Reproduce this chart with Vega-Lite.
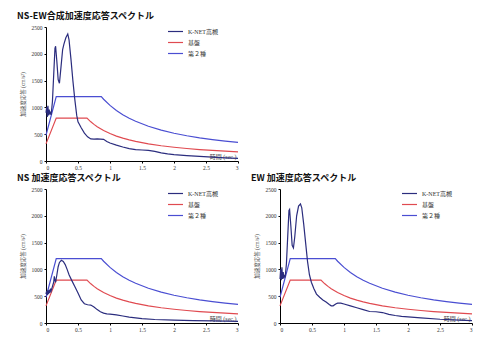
{
  "$schema": "https://vega.github.io/schema/vega-lite/v6.json",
  "padding": {"left": 17, "top": 12, "right": 5, "bottom": 5},
  "background": "white",
  "config": {
    "view": {"stroke": null},
    "font": "Liberation Serif, Noto Sans CJK JP",
    "axis": {"grid": false, "domainColor": "#000", "tickColor": "#000", "labelFont": "Liberation Serif", "labelFontSize": 5.5, "labelColor": "#333", "tickSize": 2, "labelPadding": 2, "domainWidth": 1, "titleFont": "Liberation Serif, Noto Sans CJK JP", "titleFontWeight": "normal", "titleFontSize": 5.5, "titleColor": "#444"},
    "title": {"font": "Noto Sans CJK JP", "fontSize": 9, "fontWeight": "bold", "anchor": "start", "frame": "bounds", "color": "#111", "offset": 4, "dx": -3},
    "legend": {"orient": "none", "legendX": 121, "legendY": 1, "labelFont": "Liberation Serif, Noto Sans CJK JP", "labelFontSize": 6, "labelColor": "#333", "symbolType": "stroke", "symbolSize": 225, "symbolStrokeWidth": 1.2, "clipHeight": 7, "rowPadding": 4, "title": null}
  },
  "datasets": {
    "code": [
      {"s": "基盤", "T": 0, "v": 320}, {"s": "基盤", "T": 0.16, "v": 800}, {"s": "基盤", "T": 0.64, "v": 800},
      {"s": "基盤", "T": 0.7, "v": 731}, {"s": "基盤", "T": 0.75, "v": 683}, {"s": "基盤", "T": 0.8, "v": 640},
      {"s": "基盤", "T": 0.9, "v": 569}, {"s": "基盤", "T": 1.0, "v": 512}, {"s": "基盤", "T": 1.1, "v": 465},
      {"s": "基盤", "T": 1.2, "v": 427}, {"s": "基盤", "T": 1.3, "v": 394}, {"s": "基盤", "T": 1.4, "v": 366},
      {"s": "基盤", "T": 1.6, "v": 320}, {"s": "基盤", "T": 1.8, "v": 284}, {"s": "基盤", "T": 2.0, "v": 256},
      {"s": "基盤", "T": 2.2, "v": 233}, {"s": "基盤", "T": 2.4, "v": 213}, {"s": "基盤", "T": 2.6, "v": 197},
      {"s": "基盤", "T": 2.8, "v": 183}, {"s": "基盤", "T": 3.0, "v": 171},
      {"s": "第２種", "T": 0, "v": 480}, {"s": "第２種", "T": 0.16, "v": 1200}, {"s": "第２種", "T": 0.864, "v": 1200},
      {"s": "第２種", "T": 0.9, "v": 1152}, {"s": "第２種", "T": 1.0, "v": 1037}, {"s": "第２種", "T": 1.1, "v": 943},
      {"s": "第２種", "T": 1.2, "v": 864}, {"s": "第２種", "T": 1.3, "v": 798}, {"s": "第２種", "T": 1.4, "v": 741},
      {"s": "第２種", "T": 1.6, "v": 648}, {"s": "第２種", "T": 1.8, "v": 576}, {"s": "第２種", "T": 2.0, "v": 518},
      {"s": "第２種", "T": 2.2, "v": 471}, {"s": "第２種", "T": 2.4, "v": 432}, {"s": "第２種", "T": 2.6, "v": 399},
      {"s": "第２種", "T": 2.8, "v": 370}, {"s": "第２種", "T": 3.0, "v": 346}
    ],
    "nsew": [
      {"s": "K-NET高槻", "T": 0, "v": 900}, {"s": "K-NET高槻", "T": 0.01, "v": 1000}, {"s": "K-NET高槻", "T": 0.02, "v": 820}, {"s": "K-NET高槻", "T": 0.03, "v": 1030}, {"s": "K-NET高槻", "T": 0.04, "v": 850},
      {"s": "K-NET高槻", "T": 0.05, "v": 960}, {"s": "K-NET高槻", "T": 0.06, "v": 870}, {"s": "K-NET高槻", "T": 0.07, "v": 920}, {"s": "K-NET高槻", "T": 0.08, "v": 860}, {"s": "K-NET高槻", "T": 0.1, "v": 1100},
      {"s": "K-NET高槻", "T": 0.12, "v": 1600}, {"s": "K-NET高槻", "T": 0.14, "v": 2100}, {"s": "K-NET高槻", "T": 0.15, "v": 2140}, {"s": "K-NET高槻", "T": 0.17, "v": 1850}, {"s": "K-NET高槻", "T": 0.19, "v": 1520},
      {"s": "K-NET高槻", "T": 0.21, "v": 1450}, {"s": "K-NET高槻", "T": 0.23, "v": 1700}, {"s": "K-NET高槻", "T": 0.26, "v": 2080}, {"s": "K-NET高槻", "T": 0.28, "v": 2180}, {"s": "K-NET高槻", "T": 0.31, "v": 2300},
      {"s": "K-NET高槻", "T": 0.34, "v": 2370}, {"s": "K-NET高槻", "T": 0.36, "v": 2260}, {"s": "K-NET高槻", "T": 0.39, "v": 1900}, {"s": "K-NET高槻", "T": 0.42, "v": 1500}, {"s": "K-NET高槻", "T": 0.45, "v": 1150},
      {"s": "K-NET高槻", "T": 0.48, "v": 850}, {"s": "K-NET高槻", "T": 0.5, "v": 730}, {"s": "K-NET高槻", "T": 0.55, "v": 620}, {"s": "K-NET高槻", "T": 0.6, "v": 520}, {"s": "K-NET高槻", "T": 0.65, "v": 450},
      {"s": "K-NET高槻", "T": 0.7, "v": 412}, {"s": "K-NET高槻", "T": 0.75, "v": 408}, {"s": "K-NET高槻", "T": 0.8, "v": 412}, {"s": "K-NET高槻", "T": 0.85, "v": 408}, {"s": "K-NET高槻", "T": 0.9, "v": 405},
      {"s": "K-NET高槻", "T": 0.95, "v": 365}, {"s": "K-NET高槻", "T": 1.0, "v": 335}, {"s": "K-NET高槻", "T": 1.1, "v": 295}, {"s": "K-NET高槻", "T": 1.2, "v": 262}, {"s": "K-NET高槻", "T": 1.3, "v": 232},
      {"s": "K-NET高槻", "T": 1.4, "v": 212}, {"s": "K-NET高槻", "T": 1.5, "v": 205}, {"s": "K-NET高槻", "T": 1.6, "v": 198}, {"s": "K-NET高槻", "T": 1.7, "v": 178}, {"s": "K-NET高槻", "T": 1.8, "v": 152},
      {"s": "K-NET高槻", "T": 1.9, "v": 132}, {"s": "K-NET高槻", "T": 2.0, "v": 118}, {"s": "K-NET高槻", "T": 2.2, "v": 102}, {"s": "K-NET高槻", "T": 2.4, "v": 86}, {"s": "K-NET高槻", "T": 2.6, "v": 74},
      {"s": "K-NET高槻", "T": 2.8, "v": 60}, {"s": "K-NET高槻", "T": 3.0, "v": 50}
    ],
    "ns": [
      {"s": "K-NET高槻", "T": 0, "v": 540}, {"s": "K-NET高槻", "T": 0.01, "v": 600}, {"s": "K-NET高槻", "T": 0.02, "v": 520}, {"s": "K-NET高槻", "T": 0.03, "v": 610}, {"s": "K-NET高槻", "T": 0.04, "v": 540},
      {"s": "K-NET高槻", "T": 0.05, "v": 620}, {"s": "K-NET高槻", "T": 0.06, "v": 560}, {"s": "K-NET高槻", "T": 0.07, "v": 640}, {"s": "K-NET高槻", "T": 0.08, "v": 600}, {"s": "K-NET高槻", "T": 0.1, "v": 680},
      {"s": "K-NET高槻", "T": 0.12, "v": 760}, {"s": "K-NET高槻", "T": 0.13, "v": 870}, {"s": "K-NET高槻", "T": 0.14, "v": 800}, {"s": "K-NET高槻", "T": 0.15, "v": 760}, {"s": "K-NET高槻", "T": 0.17, "v": 900},
      {"s": "K-NET高槻", "T": 0.19, "v": 1050}, {"s": "K-NET高槻", "T": 0.21, "v": 1130}, {"s": "K-NET高槻", "T": 0.24, "v": 1170}, {"s": "K-NET高槻", "T": 0.27, "v": 1150}, {"s": "K-NET高槻", "T": 0.3, "v": 1090},
      {"s": "K-NET高槻", "T": 0.33, "v": 1000}, {"s": "K-NET高槻", "T": 0.36, "v": 900}, {"s": "K-NET高槻", "T": 0.4, "v": 800}, {"s": "K-NET高槻", "T": 0.45, "v": 680}, {"s": "K-NET高槻", "T": 0.5, "v": 560},
      {"s": "K-NET高槻", "T": 0.55, "v": 430}, {"s": "K-NET高槻", "T": 0.6, "v": 360}, {"s": "K-NET高槻", "T": 0.65, "v": 340}, {"s": "K-NET高槻", "T": 0.7, "v": 335}, {"s": "K-NET高槻", "T": 0.75, "v": 300},
      {"s": "K-NET高槻", "T": 0.8, "v": 250}, {"s": "K-NET高槻", "T": 0.85, "v": 210}, {"s": "K-NET高槻", "T": 0.9, "v": 185}, {"s": "K-NET高槻", "T": 0.95, "v": 170}, {"s": "K-NET高槻", "T": 1.0, "v": 165},
      {"s": "K-NET高槻", "T": 1.1, "v": 150}, {"s": "K-NET高槻", "T": 1.2, "v": 130}, {"s": "K-NET高槻", "T": 1.3, "v": 110}, {"s": "K-NET高槻", "T": 1.4, "v": 95}, {"s": "K-NET高槻", "T": 1.5, "v": 80},
      {"s": "K-NET高槻", "T": 1.7, "v": 65}, {"s": "K-NET高槻", "T": 2.0, "v": 55}, {"s": "K-NET高槻", "T": 2.3, "v": 45}, {"s": "K-NET高槻", "T": 2.6, "v": 38}, {"s": "K-NET高槻", "T": 3.0, "v": 30}
    ],
    "ew": [
      {"s": "K-NET高槻", "T": 0, "v": 820}, {"s": "K-NET高槻", "T": 0.01, "v": 1000}, {"s": "K-NET高槻", "T": 0.02, "v": 800}, {"s": "K-NET高槻", "T": 0.03, "v": 1040}, {"s": "K-NET高槻", "T": 0.04, "v": 820},
      {"s": "K-NET高槻", "T": 0.05, "v": 950}, {"s": "K-NET高槻", "T": 0.06, "v": 830}, {"s": "K-NET高槻", "T": 0.07, "v": 900}, {"s": "K-NET高槻", "T": 0.08, "v": 850}, {"s": "K-NET高槻", "T": 0.1, "v": 1100},
      {"s": "K-NET高槻", "T": 0.12, "v": 1600}, {"s": "K-NET高槻", "T": 0.14, "v": 2100}, {"s": "K-NET高槻", "T": 0.15, "v": 2120}, {"s": "K-NET高槻", "T": 0.17, "v": 1800}, {"s": "K-NET高槻", "T": 0.19, "v": 1450},
      {"s": "K-NET高槻", "T": 0.21, "v": 1400}, {"s": "K-NET高槻", "T": 0.23, "v": 1600}, {"s": "K-NET高槻", "T": 0.26, "v": 2000}, {"s": "K-NET高槻", "T": 0.29, "v": 2180}, {"s": "K-NET高槻", "T": 0.32, "v": 2220},
      {"s": "K-NET高槻", "T": 0.34, "v": 2150}, {"s": "K-NET高槻", "T": 0.37, "v": 1850}, {"s": "K-NET高槻", "T": 0.4, "v": 1500}, {"s": "K-NET高槻", "T": 0.43, "v": 1150}, {"s": "K-NET高槻", "T": 0.46, "v": 900},
      {"s": "K-NET高槻", "T": 0.49, "v": 760}, {"s": "K-NET高槻", "T": 0.53, "v": 640}, {"s": "K-NET高槻", "T": 0.57, "v": 540}, {"s": "K-NET高槻", "T": 0.62, "v": 480}, {"s": "K-NET高槻", "T": 0.67, "v": 430},
      {"s": "K-NET高槻", "T": 0.72, "v": 390}, {"s": "K-NET高槻", "T": 0.77, "v": 345}, {"s": "K-NET高槻", "T": 0.8, "v": 320}, {"s": "K-NET高槻", "T": 0.83, "v": 320}, {"s": "K-NET高槻", "T": 0.87, "v": 355},
      {"s": "K-NET高槻", "T": 0.9, "v": 370}, {"s": "K-NET高槻", "T": 0.95, "v": 370}, {"s": "K-NET高槻", "T": 1.0, "v": 355}, {"s": "K-NET高槻", "T": 1.1, "v": 320}, {"s": "K-NET高槻", "T": 1.2, "v": 285},
      {"s": "K-NET高槻", "T": 1.3, "v": 250}, {"s": "K-NET高槻", "T": 1.4, "v": 215}, {"s": "K-NET高槻", "T": 1.5, "v": 210}, {"s": "K-NET高槻", "T": 1.6, "v": 195}, {"s": "K-NET高槻", "T": 1.7, "v": 160},
      {"s": "K-NET高槻", "T": 1.8, "v": 140}, {"s": "K-NET高槻", "T": 1.9, "v": 125}, {"s": "K-NET高槻", "T": 2.0, "v": 115}, {"s": "K-NET高槻", "T": 2.2, "v": 95}, {"s": "K-NET高槻", "T": 2.5, "v": 70},
      {"s": "K-NET高槻", "T": 2.8, "v": 55}, {"s": "K-NET高槻", "T": 3.0, "v": 45}
    ]
  },
  "spacing": 3,
  "resolve": {"scale": {"color": "independent"}, "legend": {"color": "independent"}},
  "vconcat": [
    {
      "title": "NS-EW合成加速度応答スペクトル",
      "width": 192, "height": 134,
      "encoding": {
        "x": {"field": "T", "type": "quantitative", "scale": {"domain": [0, 3], "nice": false}, "axis": {"values": [0, 0.5, 1, 1.5, 2, 2.5, 3], "format": "~g", "title": "時間 (sec.)", "titleX": 190, "titleY": -8, "titleAlign": "right", "titleFontSize": 6}},
        "y": {"field": "v", "type": "quantitative", "scale": {"domain": [0, 2500], "nice": false}, "axis": {"values": [0, 500, 1000, 1500, 2000, 2500], "format": "d", "title": "加速度応答 (cm/s²)", "titlePadding": 6}},
        "color": {"field": "s", "type": "nominal", "scale": {"domain": ["K-NET高槻", "基盤", "第２種"], "range": ["#2b2d7e", "#e04a50", "#4a4ed2"]}}
      },
      "layer": [
        {"data": {"name": "code"}, "mark": {"type": "line", "strokeWidth": 1.2}},
        {"data": {"name": "nsew"}, "mark": {"type": "line", "strokeWidth": 1.2}}
      ]
    },
    {
      "spacing": 10,
      "resolve": {"scale": {"color": "independent"}, "legend": {"color": "independent"}},
      "hconcat": [
        {
          "title": "NS 加速度応答スペクトル",
          "width": 192, "height": 134,
          "encoding": {
            "x": {"field": "T", "type": "quantitative", "scale": {"domain": [0, 3], "nice": false}, "axis": {"values": [0, 0.5, 1, 1.5, 2, 2.5, 3], "format": "~g", "title": "時間 (sec.)", "titleX": 190, "titleY": -8, "titleAlign": "right", "titleFontSize": 6}},
            "y": {"field": "v", "type": "quantitative", "scale": {"domain": [0, 2500], "nice": false}, "axis": {"values": [0, 500, 1000, 1500, 2000, 2500], "format": "d", "title": "加速度応答 (cm/s²)", "titlePadding": 6}},
            "color": {"field": "s", "type": "nominal", "scale": {"domain": ["K-NET高槻", "基盤", "第２種"], "range": ["#2b2d7e", "#e04a50", "#4a4ed2"]}}
          },
          "layer": [
            {"data": {"name": "code"}, "mark": {"type": "line", "strokeWidth": 1.2}},
            {"data": {"name": "ns"}, "mark": {"type": "line", "strokeWidth": 1.2}}
          ]
        },
        {
          "title": "EW 加速度応答スペクトル",
          "width": 192, "height": 134,
          "encoding": {
            "x": {"field": "T", "type": "quantitative", "scale": {"domain": [0, 3], "nice": false}, "axis": {"values": [0, 0.5, 1, 1.5, 2, 2.5, 3], "format": "~g", "title": "時間 (sec.)", "titleX": 190, "titleY": -8, "titleAlign": "right", "titleFontSize": 6}},
            "y": {"field": "v", "type": "quantitative", "scale": {"domain": [0, 2500], "nice": false}, "axis": {"values": [0, 500, 1000, 1500, 2000, 2500], "format": "d", "title": "加速度応答 (cm/s²)", "titlePadding": 6}},
            "color": {"field": "s", "type": "nominal", "scale": {"domain": ["K-NET高槻", "基盤", "第２種"], "range": ["#2b2d7e", "#e04a50", "#4a4ed2"]}}
          },
          "layer": [
            {"data": {"name": "code"}, "mark": {"type": "line", "strokeWidth": 1.2}},
            {"data": {"name": "ew"}, "mark": {"type": "line", "strokeWidth": 1.2}}
          ]
        }
      ]
    }
  ]
}
